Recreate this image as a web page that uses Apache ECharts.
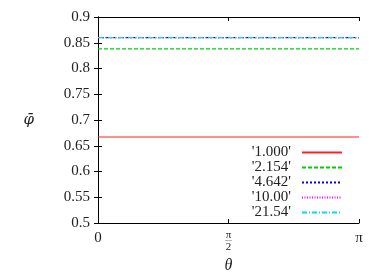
<!DOCTYPE html>
<html><head><meta charset="utf-8">
<script src="https://cdn.jsdelivr.net/npm/echarts@6/dist/echarts.min.js"></script>
<style>html,body{margin:0;padding:0;background:#fff}#c{width:382px;height:273px}</style>
</head><body><div id="c"></div>
<script>
var seriesNames = ["'1.000'", "'2.154'", "'4.642'", "'10.00'", "'21.54'"];
var seriesValues = [0.667, 0.838, 0.86, 0.86, 0.86];
var thetaRange = [0, Math.PI];
var yTicks = [0.5, 0.55, 0.6, 0.65, 0.7, 0.75, 0.8, 0.85, 0.9];
var colors = ['#ff2020', '#00d000', '#0000ff', '#ff00ff', '#00e0e0'];
var dashes = ['solid', [4, 2], [2, 2], [1, 1.5], [5, 2, 1, 2]];
var FONT = 'Liberation Serif';
var TXT = '#222';

var series = seriesNames.map(function (n, i) {
  return {
    name: n, type: 'line', showSymbol: false, symbol: 'none',
    data: thetaRange.map(function (t) { return [t, seriesValues[i]]; }),
    lineStyle: { color: colors[i], width: 1.2, type: dashes[i] },
    itemStyle: { color: colors[i] },
    z: 2 + i
  };
});

function xLabel(v) {
  if (Math.abs(v) < 1e-9) return '0';
  if (Math.abs(v - Math.PI / 2) < 1e-6) return '{n|π}\n{l|—}\n{d|2}';
  if (Math.abs(v - Math.PI) < 1e-6) return 'π';
  return '';
}

var chart = echarts.init(document.getElementById('c'));
chart.setOption({
  animation: false,
  textStyle: { fontFamily: FONT },
  grid: { left: 98, right: 23, top: 17, bottom: 50, containLabel: false, outerBoundsMode: 'none' },
  legend: {
    right: 34, top: 140, orient: 'vertical', align: 'right',
    itemWidth: 40, itemHeight: 10, itemGap: 0,
    itemStyle: { opacity: 0 },
    textStyle: { fontFamily: FONT, fontSize: 15, lineHeight: 14, color: TXT, padding: [0, 6, 0, 0] },
    data: seriesNames
  },
  xAxis: [{
    type: 'value', min: 0, max: Math.PI, interval: Math.PI / 2,
    name: 'θ', nameLocation: 'middle', nameGap: 29,
    nameTextStyle: { fontFamily: FONT, fontStyle: 'italic', fontSize: 16, color: TXT },
    axisLine: { lineStyle: { color: '#000' } },
    axisTick: { inside: true, length: 4, lineStyle: { color: '#000' } },
    splitLine: { show: false },
    axisLabel: {
      formatter: xLabel, margin: 8, color: TXT, fontSize: 15, fontFamily: FONT,
      rich: {
        n: { fontSize: 11, fontFamily: FONT, color: TXT, lineHeight: 8 },
        l: { fontSize: 7, fontFamily: FONT, color: TXT, lineHeight: 3 },
        d: { fontSize: 11, fontFamily: FONT, color: TXT, lineHeight: 10 }
      }
    }
  }, {
    type: 'value', min: 0, max: Math.PI, interval: Math.PI / 2, position: 'top',
    axisLine: { lineStyle: { color: '#000' } },
    axisTick: { inside: true, length: 4, lineStyle: { color: '#000' } },
    axisLabel: { show: false }, splitLine: { show: false }
  }],
  yAxis: [{
    type: 'value', min: yTicks[0], max: yTicks[yTicks.length - 1], interval: 0.05,
    name: 'φ̄', nameLocation: 'middle', nameRotate: 0, nameGap: 64,
    nameTextStyle: { fontFamily: 'DejaVu Serif', fontStyle: 'italic', fontSize: 15, color: TXT },
    axisLine: { show: true, lineStyle: { color: '#000' } },
    axisTick: { show: true, inside: true, length: 4, lineStyle: { color: '#000' } },
    splitLine: { show: false },
    axisLabel: {
      margin: 8, color: TXT, fontSize: 15, fontFamily: FONT,
      formatter: function (v) { return String(Math.round(v * 100) / 100); }
    }
  }, {
    type: 'value', min: yTicks[0], max: yTicks[yTicks.length - 1], interval: 0.05, position: 'right',
    axisLine: { show: true, lineStyle: { color: '#000' } },
    axisTick: { show: true, inside: true, length: 4, lineStyle: { color: '#000' } },
    axisLabel: { show: false }, splitLine: { show: false }
  }],
  series: series
});
</script>
</body></html>
